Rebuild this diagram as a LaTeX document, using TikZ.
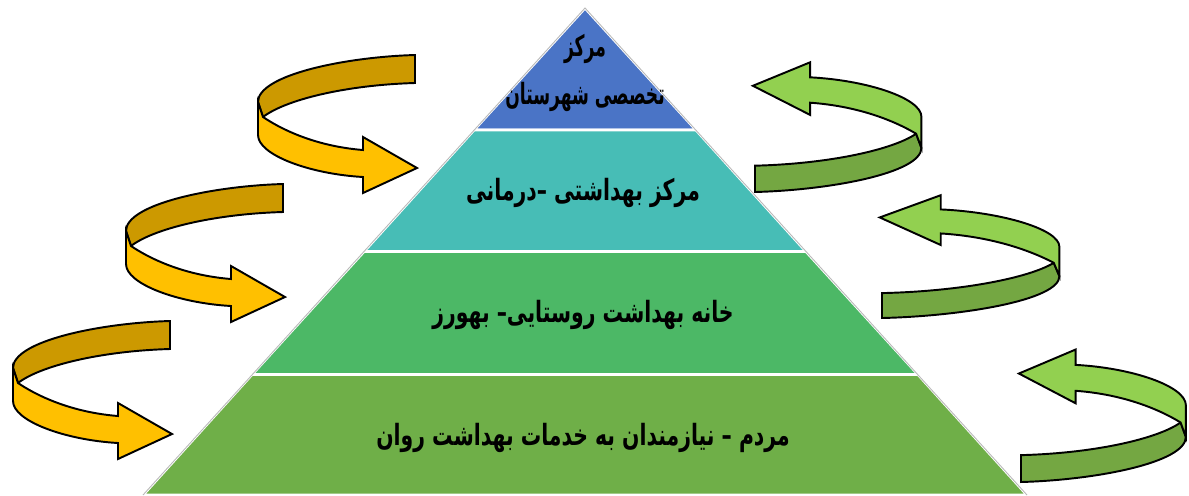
\documentclass[tikz,border=0pt]{standalone}
\usepackage{fontspec}
\newfontfamily\arabicfont[Script=Arabic]{DejaVu Sans}
\TeXXeTstate=1

\definecolor{tierTop}{HTML}{4A74C6}
\definecolor{tierTwo}{HTML}{47BDB6}
\definecolor{tierThree}{HTML}{4CB866}
\definecolor{tierFour}{HTML}{6FAF48}
\definecolor{gold}{HTML}{FFC000}
\definecolor{goldDark}{HTML}{CC9900}
\definecolor{leaf}{HTML}{92D050}
\definecolor{leafDark}{HTML}{74A742}

\tikzset{
  tier/.style={draw=white, line width=1.6pt},
  tiertext/.style={font=\arabicfont\bfseries\fontsize{14.5}{24}\selectfont, align=center, xscale=0.8, yscale=1.15},
  band/.style={draw=black, line width=1.1pt},
  back band/.style={fill=goldDark},
  front band/.style={fill=gold},
  twist/.pic={
    \path[band, back band] (0,0) -- (0,28) .. controls (-70,30) and (-130,45) .. (-152,62)
      -- (-157,47) .. controls (-157,20) and (-70,2) .. (0,0) -- cycle;
    \path[band, front band] (-157,47) -- (-152,62) .. controls (-125,80) and (-90,92) .. (-52,95)
      -- (-52,82) -- (2,113) -- (-52,138) -- (-52,122)
      .. controls (-105,119) and (-157,100) .. (-157,80) -- cycle;
  }
}

\begin{document}
\begin{tikzpicture}[x=0.02cm, y=-0.02cm]
\useasboundingbox (0,0) rectangle (1189,495);

\coordinate (apex) at (585,8);
\coordinate (aL) at (474,130);   \coordinate (aR) at (696,130);
\coordinate (bL) at (364,251.5); \coordinate (bR) at (806,251.5);
\coordinate (cL) at (252,374.5); \coordinate (cR) at (918,374.5);
\coordinate (dL) at (143,495);   \coordinate (dR) at (1027,495);

\path[tier, fill=tierTop] (apex) -- (aR) -- (aL) -- cycle;
\path[tier, fill=tierTwo] (aL) -- (aR) -- (bR) -- (bL) -- cycle;
\path[tier, fill=tierThree] (bL) -- (bR) -- (cR) -- (cL) -- cycle;
\path[tier, fill=tierFour] (cL) -- (cR) -- (dR) -- (dL) -- cycle;
\draw[gray!55, line width=0.5pt] (dL) -- (apex) -- (dR);

\node[tiertext, xscale=0.84] (district) at (585,73) {\beginR مرکز\endR\\\beginR تخصصی شهرستان\endR};
\node[tiertext] (clinic) at (583,193) {\beginR مرکز بهداشتی –درمانی\endR};
\node[tiertext] (healthhouse) at (583,315) {\beginR خانه بهداشت روستایی– بهورز\endR};
\node[tiertext] (people) at (583,438) {\beginR مردم – نیازمندان به خدمات بهداشت روان\endR};

\foreach \x/\y in {415/55, 283/184, 170/321}
  \pic at (\x,\y) {twist};
\foreach \x/\y/\sx/\sy in {755/192/1.06/0.94, 882/318/1.13/0.89, 1021/482/1.05/0.96}
  \pic[rotate=180, xscale=\sx, yscale=\sy, back band/.style={fill=leafDark}, front band/.style={fill=leaf}] at (\x,\y) {twist};
\end{tikzpicture}
\end{document}
